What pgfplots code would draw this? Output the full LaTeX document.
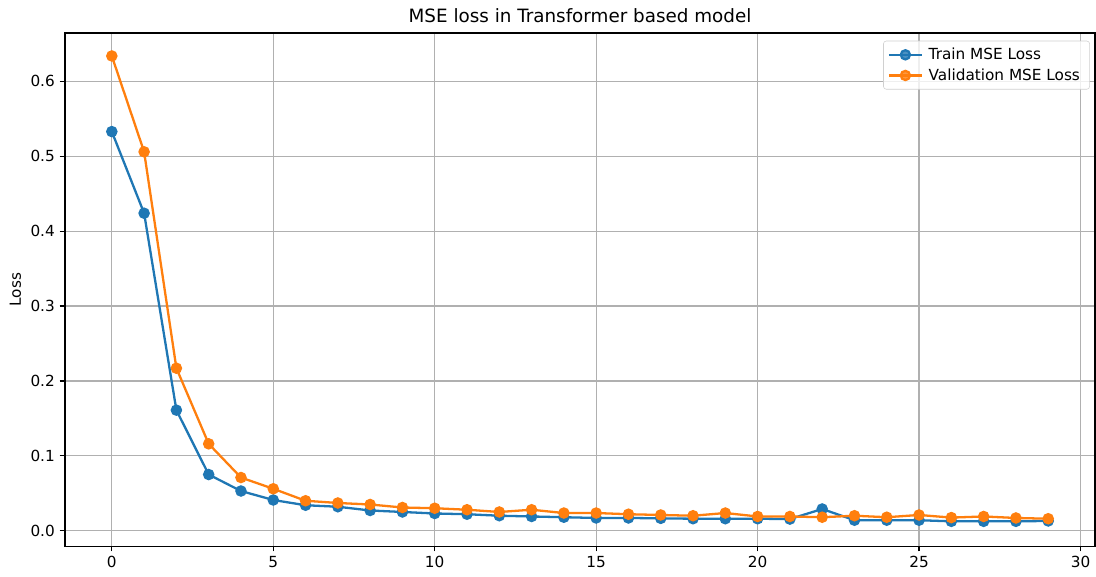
\documentclass[border=0pt]{standalone}
\usepackage{pgfplots}
\pgfplotsset{compat=1.18}
\usepackage{fontspec}
\setmainfont{DejaVu Sans}
\definecolor{cA}{HTML}{1F77B4}
\definecolor{cB}{HTML}{FF7F0E}
\definecolor{gridc}{HTML}{B0B0B0}
\pgfplotstableread{
x train val
0 0.533 0.634
1 0.424 0.506
2 0.161 0.217
3 0.075 0.116
4 0.053 0.071
5 0.041 0.056
6 0.034 0.040
7 0.032 0.037
8 0.027 0.035
9 0.025 0.031
10 0.023 0.030
11 0.022 0.028
12 0.020 0.025
13 0.019 0.028
14 0.018 0.0236
15 0.017 0.0236
16 0.017 0.022
17 0.0165 0.021
18 0.016 0.020
19 0.016 0.0236
20 0.016 0.019
21 0.0155 0.019
22 0.029 0.018
23 0.014 0.020
24 0.014 0.018
25 0.014 0.021
26 0.0125 0.0175
27 0.0125 0.019
28 0.0125 0.017
29 0.013 0.016
}\loss
\begin{document}
\begin{tikzpicture}
\path[use as bounding box] (-46.8pt,-21.6pt) rectangle (742.3pt,393.2pt);
\begin{axis}[
  at={(0,0)}, anchor=south west,
  scale only axis, width=741.6pt, height=369.4pt,
  xmin=-1.45, xmax=30.45, ymin=-0.0206, ymax=0.6646,
  xtick={0,5,...,30}, ytick={0,0.1,...,0.6},
  yticklabel style={/pgf/number format/.cd, fixed, fixed zerofill, precision=1},
  /pgf/number format/assume math mode=true,
  ticklabel style={font=\fontsize{11}{13}\selectfont},
  tick align=outside, tick pos=left, major tick length=3.8pt,
  every tick/.style={black, line width=0.85pt},
  axis line style={line width=0.85pt},
  grid=major, major grid style={gridc, line width=0.85pt},
  title={MSE loss in Transformer based model},
  title style={font=\fontsize{13.2}{15}\selectfont, yshift=-2pt},
  ylabel={Loss}, ylabel style={font=\fontsize{11}{13}\selectfont, yshift=0pt},
  legend style={font=\fontsize{11}{13}\selectfont, draw=gridc!60, fill=white, fill opacity=0.8, text opacity=1, rounded corners=2pt, at={(0.995,0.985)}, anchor=north east, row sep=1pt, inner sep=3pt, nodes={inner xsep=4pt}},
  legend cell align=left,
  legend image code/.code={\draw[mark repeat=2, mark phase=2] plot coordinates {(0cm,0cm) (0.42cm,0cm) (0.84cm,0cm)};},
]
\addplot[cA, line width=1.65pt, mark=*, mark size=3.3pt] table[x=x, y=train] {\loss};
\addlegendentry{Train MSE Loss}
\addplot[cB, line width=1.65pt, mark=*, mark size=3.3pt] table[x=x, y=val] {\loss};
\addlegendentry{Validation MSE Loss}
\end{axis}
\end{tikzpicture}
\end{document}
